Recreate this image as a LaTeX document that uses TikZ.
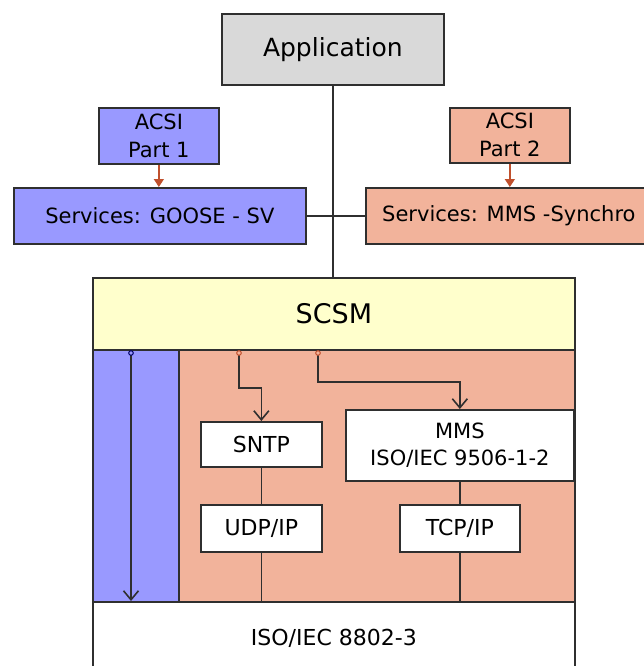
\documentclass[tikz,border=0pt]{standalone}
\usepackage{fontspec}
\setmainfont{DejaVu Sans}
\usetikzlibrary{arrows.meta}
\definecolor{blueF}{HTML}{9999FF}
\definecolor{salF}{HTML}{F2B39B}
\definecolor{yelF}{HTML}{FFFFCC}
\definecolor{grayF}{HTML}{D9D9D9}
\definecolor{arrR}{HTML}{C0502D}
\definecolor{lineC}{HTML}{2F2F2F}
\begin{document}
\begin{tikzpicture}[x=1pt,y=-1pt,
  box/.style={draw=lineC, line width=1.7pt, inner sep=0pt, anchor=north west, align=center, text=black},
  conn/.style={draw=lineC, line width=1.6pt},
  redarr/.style={draw=arrR, line width=1.5pt, -{Triangle[length=8pt,width=10pt]}},
  blkarr/.style={draw=lineC, line width=1.6pt},
  btip/.style={-{Straight Barb[length=9pt,width=15pt,line width=1.6pt]}},
  fs/.style={font=\fontsize{21}{28}\selectfont}]
\clip (0,0) rectangle (644,666);
\fill[white] (0,0) rectangle (644,666);
% top boxes
\node[box, fill=grayF, minimum width=222pt, minimum height=71pt, font=\fontsize{25}{30}\selectfont] (app) at (221,13) {Application};
\node[box, fill=blueF, minimum width=120pt, minimum height=56pt, fs] (acsi1) at (98,107) {ACSI\\Part 1};
\node[box, fill=blueF, minimum width=292pt, minimum height=56pt, fs] (goose) at (13,187) {Services: GOOSE - SV};
\node[box, fill=salF, minimum width=120pt, minimum height=55pt, fs] (acsi2) at (449,107) {ACSI\\Part 2};
\node[box, fill=salF, minimum width=286pt, minimum height=56pt, fs] (mmss) at (365,187) {Services: MMS -Synchro};
% stack
\node[box, fill=yelF, minimum width=482pt, minimum height=72pt, font=\fontsize{27}{32}\selectfont] (scsm) at (92,277) {SCSM};
\node[box, fill=blueF, minimum width=86pt, minimum height=252pt] (bcol) at (92,349) {};
\node[box, fill=salF, minimum width=396pt, minimum height=252pt] (ocol) at (178,349) {};
\node[box, fill=white, minimum width=482pt, minimum height=72pt, font=\fontsize{22}{27}\selectfont] (base) at (92,601) {ISO/IEC 8802-3};
\node[box, fill=white, minimum width=121pt, minimum height=45pt, font=\fontsize{22}{27}\selectfont] (sntp) at (200,421) {SNTP};
\node[box, fill=white, minimum width=228pt, minimum height=71pt, font=\fontsize{21}{27}\selectfont] (mms) at (345,409) {MMS\\ISO/IEC 9506-1-2};
\node[box, fill=white, minimum width=121pt, minimum height=47pt, font=\fontsize{22}{27}\selectfont] (udp) at (200,504) {UDP/IP};
\node[box, fill=white, minimum width=120pt, minimum height=47pt, font=\fontsize{22}{27}\selectfont] (tcp) at (399,504) {TCP/IP};
% connectors
\draw[conn] (app.south) -- (app.south |- scsm.north);
\draw[conn] (goose.east) -- (mmss.west);
\draw[redarr] (acsi1.south) -- (acsi1.south |- goose.north);
\draw[redarr] (acsi2.south) -- (acsi2.south |- mmss.north);
\coordinate (s0) at (131,353);
\coordinate (s1) at (239,353);
\coordinate (s2) at (318,353);
\draw[blkarr, btip] (s0) -- (s0 |- base.north);
\draw[blkarr, btip] (s1) |- ([yshift=33pt]sntp.north) -- (sntp.north);
\draw[blkarr, btip] (s2) |- ([yshift=27pt]mms.north) -- (mms.north);
\draw[blue!40!black, line width=1pt, fill=blueF] (s0) circle (2.3pt);
\draw[arrR, line width=1pt, fill=salF] (s1) circle (2.3pt);
\draw[arrR, line width=1pt, fill=salF] (s2) circle (2.3pt);
\draw[conn] (sntp.south) -- (udp.north);
\draw[conn] (udp.south) -- (udp.south |- base.north);
\draw[conn] (mms.south) -- (mms.south |- tcp.north);
\draw[conn] (tcp.south) -- (tcp.south |- base.north);
\end{tikzpicture}
\end{document}
